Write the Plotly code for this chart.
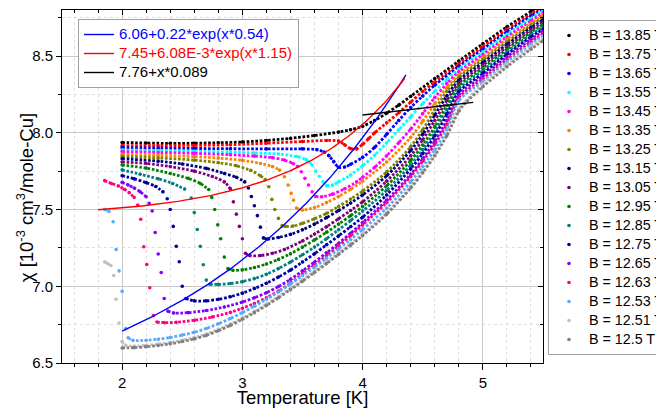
import numpy as np
import plotly.graph_objects as go

# ---------------- data ----------------
FIELDS = ["13.85", "13.75", "13.65", "13.55", "13.45", "13.35", "13.25", "13.15",
          "13.05", "12.95", "12.85", "12.75", "12.65", "12.63", "12.53", "12.51", "12.5"]
COLORS = ["#000000", "#FF0000", "#0000FF", "#00FFFF", "#FF00FF", "#FF8000", "#808000",
          "#000080", "#800080", "#008000", "#008080", "#0000A0", "#8000FF", "#FF0080",
          "#55AAFF", "#C0C0C0", "#808080"]
X_TITLE = "Temperature [K]"
Y_TITLE = "χ [10<sup>-3</sup> cm<sup>3</sup>/mole-Cu]"

T_1385 = [2.0, 2.2, 2.4, 2.6, 2.8, 3.0, 3.2, 3.4, 3.6, 3.8, 3.9, 4.0, 4.1, 4.2, 4.3, 4.4, 4.6, 4.8, 5.0, 5.2, 5.4, 5.5]
C_1385 = [7.937, 7.933, 7.931, 7.932, 7.935, 7.940, 7.950, 7.964, 7.982, 8.005, 8.020, 8.043, 8.080, 8.128, 8.180, 8.238, 8.353, 8.467, 8.580, 8.690, 8.790, 8.840]

T_1375 = [2.0, 2.3, 2.6, 2.9, 3.2, 3.5, 3.7, 3.8, 3.85, 3.9, 3.95, 4.0, 4.05, 4.1, 4.2, 4.3, 4.4, 4.5, 4.6, 4.8, 5.0, 5.2, 5.4, 5.5]
C_1375 = [7.916, 7.916, 7.918, 7.922, 7.932, 7.943, 7.950, 7.946, 7.922, 7.897, 7.895, 7.925, 7.962, 8.000, 8.065, 8.130, 8.200, 8.270, 8.330, 8.450, 8.562, 8.674, 8.775, 8.825]

T_1365 = [2.0, 2.3, 2.6, 2.9, 3.2, 3.5, 3.62, 3.68, 3.72, 3.76, 3.80, 3.85, 3.9, 4.0, 4.1, 4.2, 4.3, 4.4, 4.5, 4.6, 4.8, 5.0, 5.2, 5.4, 5.5]
C_1365 = [7.903, 7.900, 7.898, 7.896, 7.895, 7.895, 7.890, 7.875, 7.850, 7.812, 7.775, 7.777, 7.795, 7.840, 7.905, 7.990, 8.080, 8.165, 8.240, 8.310, 8.433, 8.545, 8.658, 8.760, 8.810]

T_1355 = [2.0, 2.3, 2.6, 2.9, 3.1, 3.3, 3.45, 3.53, 3.58, None, 3.61, None, 3.64, None, 3.67, None,
          3.70, 3.75, 3.8, 3.9, 4.0, 4.1, 4.2, 4.3, 4.4, 4.5, 4.6, 4.7, 4.8, 5.0, 5.2, 5.4, 5.5]
C_1355 = [7.888, 7.884, 7.880, 7.874, 7.868, 7.862, 7.845, 7.825, 7.790, None, 7.750, None, 7.715, None, 7.680, None,
          7.655, 7.660, 7.680, 7.725, 7.785, 7.855, 7.935, 8.020, 8.105, 8.190, 8.270, 8.345, 8.415, 8.527, 8.641, 8.745, 8.795]

T_1345 = [2.0, 2.3, 2.6, 2.9, 3.1, 3.25, 3.35, 3.42, 3.46, None, 3.49, None, 3.52, None, 3.55, None, 3.58, None,
          3.61, 3.66, 3.75, 3.85, 3.95, 4.0, 4.1, 4.2, 4.3, 4.4, 4.5, 4.6, 4.7, 4.8, 5.0, 5.2, 5.4, 5.5]
C_1345 = [7.877, 7.872, 7.866, 7.857, 7.848, 7.838, 7.822, 7.800, 7.780, None, 7.746, None, 7.703, None, 7.659, None, 7.616, None,
          7.585, 7.583, 7.600, 7.635, 7.680, 7.710, 7.775, 7.850, 7.935, 8.025, 8.125, 8.230, 8.320, 8.397, 8.510, 8.625, 8.730, 8.780]

T_1335 = [2.0, 2.3, 2.6, 2.8, 3.0, 3.15, 3.25, 3.31, None, 3.35, None, 3.38, None, 3.405, None, 3.425, None,
          3.45, 3.5, 3.6, 3.7, 3.8, 3.9, 4.0, 4.2, 4.4, 4.5, 4.6, 4.7, 4.8, 5.0, 5.2, 5.4, 5.5]
C_1335 = [7.860, 7.853, 7.845, 7.835, 7.820, 7.800, 7.780, 7.757, None, 7.714, None, 7.659, None, 7.605, None, 7.561, None,
          7.510, 7.497, 7.513, 7.545, 7.585, 7.632, 7.685, 7.810, 7.970, 8.075, 8.190, 8.295, 8.378, 8.492, 8.609, 8.715, 8.765]

T_1325 = [2.0, 2.3, 2.6, 2.8, 2.95, 3.07, 3.15, 3.19, None, 3.22, None, 3.245, None, 3.27, None, 3.30, None,
          3.33, 3.36, 3.42, 3.5, 3.6, 3.7, 3.8, 3.9, 4.0, 4.2, 4.4, 4.5, 4.6, 4.7, 4.8, 5.0, 5.2, 5.4, 5.5]
C_1325 = [7.846, 7.836, 7.822, 7.805, 7.785, 7.755, 7.720, 7.695, None, 7.648, None, 7.566, None, 7.500, None, 7.442, None,
          7.395, 7.390, 7.392, 7.410, 7.440, 7.475, 7.520, 7.568, 7.620, 7.745, 7.910, 8.020, 8.150, 8.270, 8.360, 8.475, 8.592, 8.700, 8.750]

T_1315 = [2.0, 2.3, 2.5, 2.7, 2.85, 2.95, 3.02, None, 3.05, None, 3.075, None, 3.10, None, 3.125, None, 3.15, None,
          3.175, 3.21, 3.3, 3.4, 3.5, 3.6, 3.7, 3.8, 3.9, 4.0, 4.2, 4.4, 4.5, 4.6, 4.7, 4.8, 5.0, 5.2, 5.4, 5.5]
C_1315 = [7.831, 7.815, 7.797, 7.768, 7.735, 7.710, 7.680, None, 7.640, None, 7.585, None, 7.525, None, 7.460, None, 7.385, None,
          7.315, 7.308, 7.318, 7.338, 7.368, 7.405, 7.447, 7.493, 7.542, 7.595, 7.720, 7.885, 7.990, 8.115, 8.240, 8.342, 8.457, 8.576, 8.685, 8.735]

T_1305 = [2.0, 2.2, 2.4, 2.6, 2.75, 2.85, 2.9, None, 2.925, None, 2.95, None, 2.975, None, 3.0, None,
          3.025, 3.06, 3.15, 3.25, 3.35, 3.5, 3.6, 3.7, 3.8, 3.9, 4.0, 4.2, 4.4, 4.5, 4.6, 4.7, 4.8, 5.0, 5.2, 5.4, 5.5]
C_1305 = [7.810, 7.800, 7.780, 7.750, 7.715, 7.680, 7.635, None, 7.550, None, 7.470, None, 7.390, None, 7.310, None,
          7.215, 7.200, 7.200, 7.215, 7.240, 7.295, 7.340, 7.388, 7.440, 7.494, 7.550, 7.685, 7.850, 7.955, 8.080, 8.210, 8.323, 8.440, 8.560, 8.670, 8.720]

T_1295 = [2.0, 2.2, 2.4, 2.55, 2.65, 2.72, None, 2.745, None, 2.77, None, 2.795, None, 2.82, None, 2.85, None,
          2.88, 2.92, 3.0, 3.1, 3.2, 3.3, 3.4, 3.5, 3.6, 3.7, 3.8, 3.9, 4.0, 4.2, 4.4, 4.5, 4.6, 4.7, 4.8, 5.0, 5.2, 5.4, 5.5]
C_1295 = [7.790, 7.770, 7.735, 7.703, 7.670, 7.630, None, 7.579, None, 7.500, None, 7.400, None, 7.310, None, 7.190, None,
          7.115, 7.104, 7.107, 7.122, 7.145, 7.175, 7.212, 7.255, 7.302, 7.352, 7.405, 7.460, 7.520, 7.655, 7.820, 7.920, 8.040, 8.180, 8.305, 8.422, 8.544, 8.655, 8.705]

T_1285 = [2.0, 2.15, 2.3, 2.42, 2.52, None, 2.575, None, 2.60, None, 2.625, None, 2.65, None, 2.675, None, 2.70, None,
          2.73, 2.8, 2.9, 3.0, 3.1, 3.2, 3.3, 3.4, 3.5, 3.6, 3.7, 3.8, 3.9, 4.0, 4.2, 4.4, 4.5, 4.6, 4.7, 4.8, 5.0, 5.2, 5.4, 5.5]
C_1285 = [7.758, 7.730, 7.700, 7.670, 7.633, None, 7.575, None, 7.480, None, 7.370, None, 7.260, None, 7.140, None, 7.040, None,
          7.013, 7.012, 7.018, 7.030, 7.050, 7.078, 7.115, 7.158, 7.205, 7.255, 7.310, 7.368, 7.428, 7.490, 7.625, 7.790, 7.890, 8.005, 8.150, 8.286, 8.405, 8.527, 8.640, 8.690]

T_1275 = [2.0, 2.1, 2.2, 2.28, 2.34, None, 2.375, None, 2.40, None, 2.425, None, 2.45, None, 2.475, None, 2.50, None,
          2.53, 2.6, 2.7, 2.8, 2.9, 3.0, 3.1, 3.2, 3.3, 3.4, 3.5, 3.6, 3.7, 3.8, 3.9, 4.0, 4.2, 4.4, 4.5, 4.6, 4.7, 4.8, 5.0, 5.2, 5.4, 5.5]
C_1275 = [7.720, 7.700, 7.675, 7.650, 7.615, None, 7.570, None, 7.500, None, 7.390, None, 7.260, None, 7.160, None, 7.000, None,
          6.920, 6.905, 6.905, 6.915, 6.932, 6.955, 6.985, 7.020, 7.060, 7.105, 7.158, 7.212, 7.270, 7.328, 7.388, 7.450, 7.595, 7.765, 7.865, 7.980, 8.120, 8.267, 8.387, 8.511, 8.625, 8.675]

T_1265 = [2.0, 2.05, 2.1, 2.15, 2.2, None, 2.225, None, 2.25, None, 2.275, None, 2.30, None, 2.325, None, 2.35, None,
          2.38, 2.43, 2.55, 2.7, 2.85, 3.0, 3.1, 3.2, 3.3, 3.4, 3.5, 3.6, 3.7, 3.8, 3.9, 4.0, 4.2, 4.4, 4.5, 4.6, 4.7, 4.8, 5.0, 5.2, 5.4, 5.5]
C_1265 = [7.677, 7.660, 7.640, 7.616, 7.583, None, 7.540, None, 7.490, None, 7.350, None, 7.210, None, 7.090, None, 6.920, None,
          6.838, 6.826, 6.828, 6.842, 6.865, 6.897, 6.925, 6.958, 6.998, 7.045, 7.100, 7.158, 7.218, 7.280, 7.345, 7.415, 7.560, 7.730, 7.830, 7.945, 8.080, 8.248, 8.370, 8.495, 8.610, 8.660]

T_1263 = [1.855, 1.91, 1.97, 2.02, 2.06, 2.10, None, 2.13, None, 2.155, None, 2.18, None, 2.205, None, 2.23, None, 2.26, None,
          2.29, 2.35, 2.45, 2.6, 2.75, 2.9, 3.0, 3.1, 3.2, 3.3, 3.4, 3.5, 3.6, 3.7, 3.8, 3.9, 4.0, 4.2, 4.4, 4.5, 4.6, 4.7, 4.8, 5.0, 5.2, 5.4, 5.5]
C_1263 = [7.688, 7.670, 7.653, 7.631, 7.609, 7.579, None, 7.529, None, 7.437, None, 7.257, None, 7.142, None, 6.990, None, 6.809, None,
          6.767, 6.763, 6.765, 6.778, 6.800, 6.830, 6.857, 6.888, 6.925, 6.968, 7.020, 7.080, 7.140, 7.200, 7.264, 7.330, 7.400, 7.545, 7.715, 7.815, 7.925, 8.055, 8.229, 8.352, 8.479, 8.593, 8.645]

T_1253 = [1.855, 1.89, None, 1.925, None, 1.95, None, 1.975, None, 2.0, None, 2.03, None,
          2.05, 2.09, 2.2, 2.3, 2.4, 2.5, 2.6, 2.7, 2.8, 2.9, 3.0, 3.1, 3.2, 3.3, 3.4, 3.5, 3.6, 3.7, 3.8, 3.9, 4.0, 4.2, 4.4, 4.5, 4.6, 4.7, 4.8, 5.0, 5.2, 5.4, 5.5]
C_1253 = [7.500, 7.488, None, 7.420, None, 7.240, None, 7.100, None, 6.967, None, 6.724, None,
          6.665, 6.648, 6.648, 6.655, 6.666, 6.682, 6.700, 6.725, 6.755, 6.790, 6.828, 6.870, 6.915, 6.963, 7.015, 7.070, 7.125, 7.183, 7.243, 7.305, 7.370, 7.510, 7.680, 7.780, 7.890, 8.020, 8.210, 8.335, 8.462, 8.577, 8.630]

T_1251 = [1.855, 1.88, 1.906, None, 1.93, None, 1.95, None, 1.975, None,
          2.0, 2.03, 2.1, 2.2, 2.3, 2.4, 2.5, 2.6, 2.7, 2.8, 2.9, 3.0, 3.1, 3.2, 3.3, 3.4, 3.5, 3.6, 3.7, 3.8, 3.9, 4.0, 4.2, 4.4, 4.5, 4.6, 4.7, 4.8, 5.0, 5.2, 5.4, 5.5]
C_1251 = [7.159, 7.148, 7.135, None, 7.070, None, 6.915, None, 6.760, None,
          6.640, 6.615, 6.609, 6.615, 6.623, 6.634, 6.649, 6.666, 6.689, 6.719, 6.754, 6.794, 6.837, 6.884, 6.934, 6.987, 7.042, 7.099, 7.157, 7.217, 7.277, 7.340, 7.480, 7.650, 7.750, 7.860, 7.990, 8.155, 8.317, 8.446, 8.560, 8.615]

T_1250 = [2.0, 2.1, 2.2, 2.3, 2.4, 2.5, 2.6, 2.7, 2.8, 2.9, 3.0, 3.1, 3.2, 3.3, 3.4, 3.5, 3.6, 3.7, 3.8, 3.9, 4.0, 4.2, 4.4, 4.5, 4.6, 4.7, 4.8, 4.85, 5.0, 5.2, 5.4, 5.5]
C_1250 = [6.598, 6.600, 6.606, 6.614, 6.625, 6.640, 6.657, 6.680, 6.710, 6.745, 6.785, 6.828, 6.875, 6.925, 6.978, 7.033, 7.090, 7.148, 7.208, 7.268, 7.330, 7.470, 7.640, 7.740, 7.850, 7.980, 8.140, 8.190, 8.300, 8.430, 8.545, 8.600]

SERIES_T = [T_1385, T_1375, T_1365, T_1355, T_1345, T_1335, T_1325, T_1315, T_1305,
            T_1295, T_1285, T_1275, T_1265, T_1263, T_1253, T_1251, T_1250]
SERIES_C = [C_1385, C_1375, C_1365, C_1355, C_1345, C_1335, C_1325, C_1315, C_1305,
            C_1295, C_1285, C_1275, C_1265, C_1263, C_1253, C_1251, C_1250]

# fit curves (parameters as printed in the legend)
FIT_BLUE = (6.06, 0.22, 0.54)
FIT_BLUE_RANGE = (2.0, 4.36)
FIT_RED = (7.45, 6.08e-3, 1.15)
FIT_RED_RANGE = (1.8, 4.35)
FIT_BLACK = (7.76, 0.089)
FIT_BLACK_RANGE = (4.0, 4.92)

# ---------------- figure ----------------
# the page body has an 8 px margin, so the figure starts 8 px in from the window corner
W, H = 656, 400
OFF = 8
PLOT_L, PLOT_R, PLOT_T, PLOT_B = 62, 543, 10, 362.6   # target plot box in window pixels
PLOT_H = PLOT_B - PLOT_T

fig = go.Figure()

for name, col, tx, cx in zip(FIELDS, COLORS, SERIES_T, SERIES_C):
    fig.add_trace(go.Scatter(
        x=tx, y=cx, mode="lines", connectgaps=False, showlegend=False, hoverinfo="skip",
        line=dict(color=col, width=2.8, dash="2.6px,1.7px", shape="spline", smoothing=0.8)))
    fig.add_trace(go.Scatter(
        x=tx, y=cx, mode="markers", legend="legend",
        name=f'<span style="font-size:14.3px">B = {name} T</span>',
        marker=dict(color=col, size=3.6, line=dict(width=0))))

xb = np.linspace(*FIT_BLUE_RANGE, 120)
xr = np.linspace(*FIT_RED_RANGE, 120)
xk = np.linspace(*FIT_BLACK_RANGE, 10)
fig.add_trace(go.Scatter(x=xb, y=FIT_BLUE[0] + FIT_BLUE[1] * np.exp(xb * FIT_BLUE[2]), mode="lines",
                         line=dict(color="#0000FF", width=1.4), legend="legend2",
                         name='<span style="color:#0000FF;font-size:15px">6.06+0.22*exp(x*0.54)</span>'))
fig.add_trace(go.Scatter(x=xr, y=FIT_RED[0] + FIT_RED[1] * np.exp(xr * FIT_RED[2]), mode="lines",
                         line=dict(color="#FF0000", width=1.4), legend="legend2",
                         name='<span style="color:#FF0000;font-size:15px">7.45+6.08E-3*exp(x*1.15)</span>'))
fig.add_trace(go.Scatter(x=xk, y=FIT_BLACK[0] + FIT_BLACK[1] * xk, mode="lines",
                         line=dict(color="#000000", width=1.4), legend="legend2",
                         name='<span style="color:#000000;font-size:15px">7.76+x*0.089</span>'))

# empty helper trace so the mirrored (top / right) tick axes are drawn
fig.add_trace(go.Scatter(x=[None], y=[None], xaxis="x2", yaxis="y2", showlegend=False, hoverinfo="skip"))

FONT = "Liberation Sans, Arial, sans-serif"
grid_major = "#c8c8c8"
grid_minor = "#dedede"

fig.update_layout(
    width=W, height=H,
    margin=dict(l=PLOT_L - OFF, r=W - (PLOT_R - OFF), t=PLOT_T - OFF, b=H - (PLOT_B - OFF), autoexpand=False),
    paper_bgcolor="white", plot_bgcolor="white",
    font=dict(family=FONT, size=15, color="#000000"),
    xaxis=dict(range=[1.5, 5.5], tick0=0, dtick=1, ticks="outside", ticklen=6, tickcolor="black",
               showline=True, linecolor="black", linewidth=1, mirror=True,
               showgrid=True, gridcolor=grid_major, gridwidth=1, zeroline=False,
               tickfont=dict(size=15),
               title=dict(text=X_TITLE, font=dict(size=18.5)),
               minor=dict(tick0=0, dtick=0.2, ticks="outside", ticklen=3, tickcolor="black",
                          showgrid=True, gridcolor=grid_minor, griddash="dot", gridwidth=1)),
    yaxis=dict(range=[6.5, 8.8], tick0=6.5, dtick=0.5, tickformat=".1f", ticks="outside", ticklen=5,
               tickcolor="black", showline=True, linecolor="black", linewidth=1, mirror=True,
               showgrid=True, gridcolor=grid_major, gridwidth=1, zeroline=False,
               tickfont=dict(size=15),
               minor=dict(tick0=6.5, dtick=0.25, ticks="outside", ticklen=3, tickcolor="black",
                          showgrid=True, gridcolor=grid_minor, griddash="dot", gridwidth=1)),
    xaxis2=dict(overlaying="x", side="top", range=[1.5, 5.5], ticks="inside", ticklen=5,
                tickcolor="black", showticklabels=False, showgrid=False, zeroline=False, showline=False,
                tick0=0, dtick=1,
                minor=dict(tick0=0, dtick=0.2, ticks="inside", ticklen=3, tickcolor="black", showgrid=False)),
    yaxis2=dict(overlaying="y", side="right", range=[6.5, 8.8], ticks="inside", ticklen=5,
                tickcolor="black", showticklabels=False, showgrid=False, zeroline=False, showline=False,
                tick0=6.5, dtick=0.5,
                minor=dict(tick0=6.5, dtick=0.25, ticks="inside", ticklen=3, tickcolor="black", showgrid=False)),
    legend=dict(xref="container", yref="container", x=(548 - OFF) / W, y=1 - (20 - OFF) / H,
                xanchor="left", yanchor="top", bgcolor="white", bordercolor="#a0a0a0", borderwidth=1,
                font=dict(size=11.85, family=FONT), tracegroupgap=0, itemsizing="trace", maxheight=390),
    legend2=dict(xref="container", yref="container", x=(78 - OFF) / W, y=1 - (19 - OFF) / H,
                 xanchor="left", yanchor="top", bgcolor="white", bordercolor="#a0a0a0", borderwidth=1,
                 font=dict(size=11.85, family=FONT), tracegroupgap=0),
    showlegend=True,
    annotations=[dict(text=Y_TITLE, textangle=-90, xref="paper", yref="paper",
                      x=0, xshift=-(PLOT_L - 25), y=(PLOT_B - 198) / PLOT_H,
                      xanchor="center", yanchor="middle", showarrow=False,
                      font=dict(size=18.5, family=FONT, color="#000000"))],
)

fig.write_html("out.html")
